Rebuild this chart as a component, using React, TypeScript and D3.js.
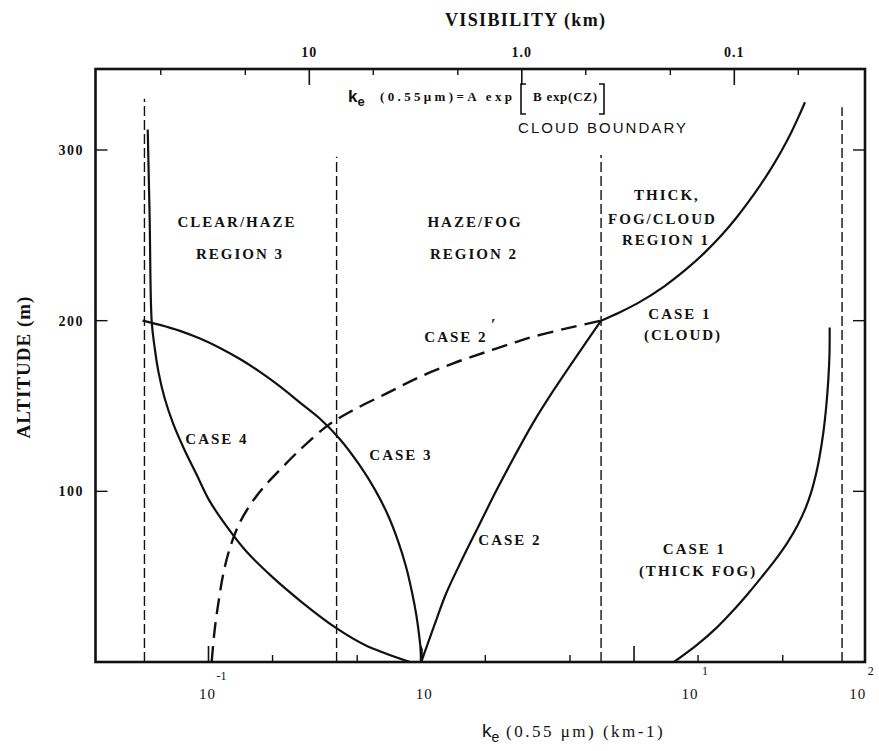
import React from 'react';
import * as d3 from 'd3';

type Pt = [number, number];

// [k_e (km^-1), altitude (m)]
const case4: Pt[] = [
  [0.0518, 312], [0.0529, 260], [0.05405, 200], [0.05572, 185], [0.05818, 170],
  [0.06208, 155], [0.06808, 140], [0.07667, 125], [0.08781, 110], [0.1005, 95],
  [0.1208, 80], [0.15, 65], [0.1987, 50], [0.275, 35], [0.3973, 20],
  [0.5437, 10], [0.8849, 0],
];
const case3: Pt[] = [
  [0.049, 200], [0.05912, 197.5], [0.07342, 194], [0.09119, 189.5], [0.1132, 184],
  [0.1405, 177.5], [0.1745, 170], [0.2167, 161.5], [0.2691, 152], [0.3342, 142.5],
  [0.4147, 130.5], [0.5149, 115], [0.6058, 101], [0.6976, 86], [0.7772, 71],
  [0.8474, 56], [0.9043, 41], [0.9493, 27], [0.9807, 14], [0.9968, 5], [1.0, 0],
];
const case2: Pt[] = [
  [1.0, 0], [1.033, 5], [1.075, 11], [1.179, 25], [1.307, 40], [1.554, 60],
  [1.867, 80], [2.244, 100], [2.728, 120], [3.35, 140], [4.227, 160], [5.423, 180], [7.0, 200],
];
const case1Cloud: Pt[] = [
  [7.0, 200], [8.589, 205], [10.32, 210], [13.83, 220], [17.54, 230], [21.54, 240],
  [25.76, 250], [30.14, 260], [34.69, 270], [39.51, 280], [44.49, 290], [49.59, 300],
  [54.66, 310], [59.61, 320], [63.6, 328],
];
const case1Fog: Pt[] = [
  [15.41, 0], [19.76, 10], [24.4, 20], [29.17, 30], [34.32, 40], [39.94, 50],
  [46.2, 60], [52.61, 70], [58.64, 80], [63.93, 90], [68.22, 100], [71.63, 110],
  [74.39, 120], [77.68, 135], [80.08, 150], [81.83, 165], [82.9, 180], [83.08, 196],
];
const case2Prime: Pt[] = [
  [0.1035, 0], [0.1067, 18], [0.1117, 36], [0.1175, 52], [0.1255, 66], [0.1383, 80],
  [0.1549, 91], [0.1803, 102], [0.2144, 112], [0.2522, 121], [0.2892, 128],
  [0.3655, 138.8], [0.479, 147.6], [0.6876, 157.4], [0.986, 167.1], [1.414, 175],
  [2.03, 181.8], [2.808, 187.6], [3.36, 190.6], [4.825, 195.5], [7.0, 200],
];

const regionBounds = [0.05, 0.4, 7, 95];
const regionBoundTops = [330, 296, 297, 325];

const bottomMajorTicks = [0.1, 1, 10];
const bottomMinorTicks = [0.2, 0.5, 2, 5, 20, 50];
const visMajorTicks = [10, 1, 0.1];
const visMajorLabels = ['10', '1.0', '0.1'];
const visMinorTicks = [50, 20, 5, 2, 0.5, 0.2, 0.05];
const altTicks = [100, 200, 300];

const SERIF = '"Liberation Serif", "DejaVu Serif", serif';
const SANS = '"Liberation Sans", Arial, sans-serif';

export default function App() {
  const W = 879, H = 751;
  const L = 95.5, R = 865, T = 69, B = 662;
  const x = d3.scaleLog().domain([0.1, 100]).range([208.5, 846.8]);
  const y = d3.scaleLinear().domain([0, 300]).range([B, 150]);
  const vis = d3.scaleLog().domain([10, 0.1]).range([309.3, 734.3]);
  const line = d3.line<Pt>().x(d => x(d[0])).y(d => y(d[1])).curve(d3.curveCatmullRom.alpha(0.5));
  const ink = '#111';

  const lbl = (t: string, cx: number, by: number, extra: any = {}) => (
    <text x={cx} y={by} textAnchor="middle" fontFamily={SERIF} fontWeight="bold" fontSize={15}
      letterSpacing={2} fill={ink} {...extra}>{t}</text>
  );

  return (
    <svg width={W} height={H} style={{ position: 'absolute', left: 0, top: 0, background: '#fff' }}>
      <rect x={0} y={0} width={W} height={H} fill="#fff" />

      {/* region boundaries */}
      {regionBounds.map((k, i) => (
        <line key={'rb' + i} x1={x(k)} x2={x(k)} y1={y(0)} y2={y(regionBoundTops[i])}
          stroke={ink} strokeWidth={1.4} strokeDasharray="10,4" />
      ))}

      {/* curves */}
      <path d={line(case4) || ''} fill="none" stroke={ink} strokeWidth={2.2} />
      <path d={line(case3) || ''} fill="none" stroke={ink} strokeWidth={2.2} />
      <path d={line(case2) || ''} fill="none" stroke={ink} strokeWidth={2.2} />
      <path d={line(case1Cloud) || ''} fill="none" stroke={ink} strokeWidth={2.2} />
      <path d={line(case1Fog) || ''} fill="none" stroke={ink} strokeWidth={2.2} />
      <path d={line(case2Prime) || ''} fill="none" stroke={ink} strokeWidth={2.4} strokeDasharray="16,8" />
      {/* cusp stem */}
      <line x1={x(1)} x2={x(1)} y1={y(0)} y2={y(8)} stroke={ink} strokeWidth={3} />

      {/* frame */}
      <rect x={L} y={T} width={R - L} height={B - T} fill="none" stroke={ink} strokeWidth={2.6} />

      {/* bottom ticks */}
      {bottomMajorTicks.map(k => (
        <line key={'bM' + k} x1={x(k)} x2={x(k)} y1={B} y2={B - 16} stroke={ink} strokeWidth={1.6} />
      ))}
      {bottomMinorTicks.map(k => (
        <line key={'bm' + k} x1={x(k)} x2={x(k)} y1={B} y2={B - 7} stroke={ink} strokeWidth={1.4} />
      ))}
      {/* top ticks (visibility) */}
      {visMajorTicks.map(v => (
        <line key={'tM' + v} x1={vis(v)} x2={vis(v)} y1={T} y2={T + 16} stroke={ink} strokeWidth={1.6} />
      ))}
      {visMinorTicks.map(v => (
        <line key={'tm' + v} x1={vis(v)} x2={vis(v)} y1={T} y2={T + 6} stroke={ink} strokeWidth={1.4} />
      ))}
      {visMajorTicks.map((v, i) => (
        <text key={'tl' + v} x={vis(v)} y={57} textAnchor="middle" fontFamily={SERIF} fontWeight="bold"
          fontSize={14} letterSpacing={1} fill={ink}>{visMajorLabels[i]}</text>
      ))}
      {/* altitude ticks */}
      {altTicks.map(a => (
        <g key={'a' + a}>
          <line x1={L} x2={L + 12} y1={y(a)} y2={y(a)} stroke={ink} strokeWidth={1.4} />
          <line x1={R} x2={R - 12} y1={y(a)} y2={y(a)} stroke={ink} strokeWidth={1.4} />
          <text x={84} y={y(a) + 5} textAnchor="end" fontFamily={SERIF} fontWeight="bold" fontSize={14}
            letterSpacing={1.5} fill={ink}>{a}</text>
        </g>
      ))}

      {/* bottom tick labels */}
      <text x={x(0.1) - 1} y={699} textAnchor="middle" fontFamily={SERIF} fontSize={15} fill={ink} letterSpacing={1}>10</text>
      <text x={x(0.1) + 13} y={680} textAnchor="middle" fontFamily={SERIF} fontSize={12} fill={ink}>-1</text>
      <text x={x(1) + 3} y={699} textAnchor="middle" fontFamily={SERIF} fontSize={15} fill={ink} letterSpacing={1}>10</text>
      <text x={x(10) + 56} y={699} textAnchor="middle" fontFamily={SERIF} fontSize={15} fill={ink} letterSpacing={1}>10</text>
      <text x={x(10) + 71} y={675} textAnchor="middle" fontFamily={SERIF} fontSize={12} fill={ink}>1</text>
      <text x={x(100) + 11} y={699} textAnchor="middle" fontFamily={SERIF} fontSize={15} fill={ink} letterSpacing={1}>10</text>
      <text x={x(100) + 24} y={675} textAnchor="middle" fontFamily={SERIF} fontSize={12} fill={ink}>2</text>

      {/* axis titles */}
      <text x={445} y={26} fontFamily={SERIF} fontWeight="bold" fontSize={18} fill={ink}
        textLength={160} lengthAdjust="spacing">VISIBILITY (km)</text>
      <text transform="translate(30,367) rotate(-90)" textAnchor="middle" fontFamily={SERIF} fontWeight="bold"
        fontSize={19} fill={ink} letterSpacing={1}>ALTITUDE (m)</text>
      <text x={482} y={737} fill={ink}>
        <tspan fontFamily={SANS} fontSize={19}>k</tspan>
        <tspan fontFamily={SANS} fontSize={14} dy={5}>e</tspan>
        <tspan fontFamily={SERIF} fontSize={17} dy={-5} letterSpacing={2.5}>{'  (0.55 μm) (km-1)'}</tspan>
      </text>

      {/* formula */}
      <text x={348} y={102} fill={ink}>
        <tspan fontFamily={SANS} fontWeight="bold" fontSize={17}>k</tspan>
        <tspan fontFamily={SANS} fontWeight="bold" fontSize={13} dy={4}>e</tspan>
      </text>
      <text x={380} y={101} fontFamily={SERIF} fontWeight="bold" fontSize={13} fill={ink}
        textLength={132} lengthAdjust="spacing">(0.55μm)=A exp</text>
      <path d="M526,84 L521,84 L521,114 L526,114" fill="none" stroke={ink} strokeWidth={1.6} />
      <text x={533} y={101} fontFamily={SERIF} fontWeight="bold" fontSize={13} fill={ink}
        textLength={64} lengthAdjust="spacing">B exp(CZ)</text>
      <path d="M599,84 L604,84 L604,114 L599,114" fill="none" stroke={ink} strokeWidth={1.6} />
      <text x={518} y={133} fontFamily={SANS} fontSize={15} fill={ink}
        textLength={168} lengthAdjust="spacing">CLOUD BOUNDARY</text>

      {/* region / case labels */}
      {lbl('CLEAR/HAZE', 237, 227)}
      {lbl('REGION 3', 240, 258.5)}
      {lbl('HAZE/FOG', 475, 227)}
      {lbl('REGION 2', 474, 258.5)}
      {lbl('THICK,', 667, 200)}
      {lbl('FOG/CLOUD', 662.5, 223.5)}
      {lbl('REGION 1', 666, 245)}
      {lbl('CASE 1', 680, 319)}
      {lbl('(CLOUD)', 683, 340)}
      {lbl('CASE 2', 456, 342)}
      <text x={491} y={330} fontFamily={SERIF} fontWeight="bold" fontSize={16} fill={ink}>′</text>
      {lbl('CASE 4', 217, 443.5)}
      {lbl('CASE 3', 401, 460)}
      {lbl('CASE 2', 510, 545)}
      {lbl('CASE 1', 694.5, 553.5)}
      {lbl('(THICK FOG)', 698, 576)}
    </svg>
  );
}
